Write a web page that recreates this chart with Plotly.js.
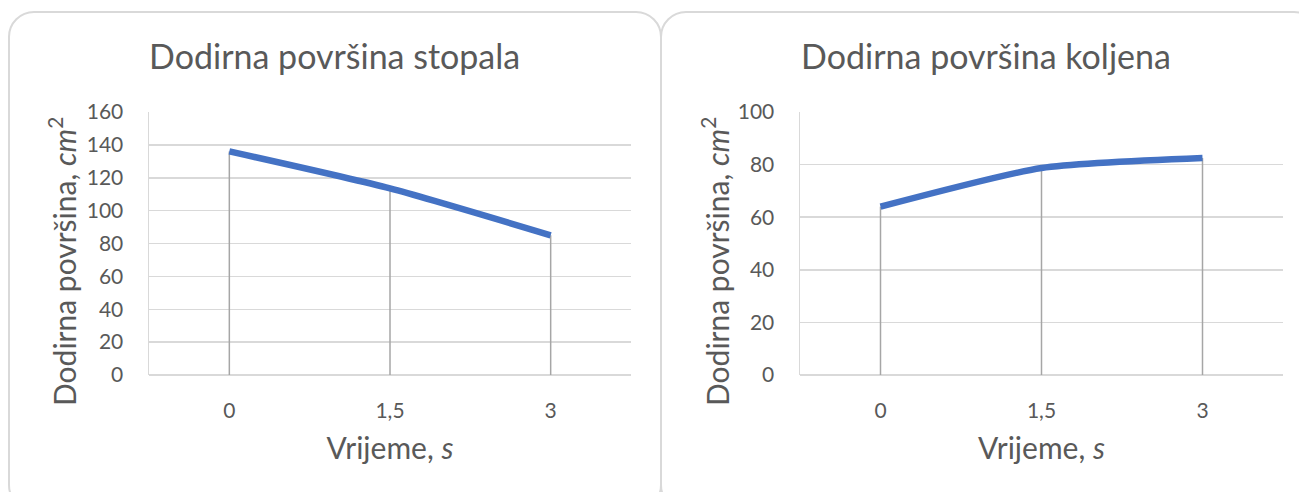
<!DOCTYPE html>
<html>
<head>
<meta charset="utf-8">
<script src="https://cdn.plot.ly/plotly-3.0.1.min.js"></script>
<style>
  html, body { margin: 0; padding: 0; background: #ffffff; overflow: hidden; }
  #wrap { position: relative; width: 1299px; height: 492px; overflow: hidden; }
  .card { position: absolute; border: 2px solid #d9d9d9; border-radius: 26px; box-sizing: border-box; background: #fff; }
  #card1 { left: 8px; top: 11px; width: 654px; height: 500px; }
  #card2 { left: 660px; top: 11px; width: 660px; height: 500px; }
  .plot { position: absolute; top: 0; }
  #p1 { left: 0; width: 660px; height: 492px; }
  #p2 { left: 660px; width: 639px; height: 492px; }
</style>
</head>
<body>
<div id="wrap">
  <div class="card" id="card1"></div>
  <div class="card" id="card2"></div>
  <div class="plot" id="p1"></div>
  <div class="plot" id="p2"></div>
</div>
<script>
// Data
const timeLabels = ['0', '1,5', '3'];
const footArea = [136, 113.5, 85];
const kneeArea = [64, 78.7, 82.5];
const footTicks = [0, 20, 40, 60, 80, 100, 120, 140, 160];
const kneeTicks = [0, 20, 40, 60, 80, 100];
const footTitle = 'Dodirna površina stopala';
const kneeTitle = 'Dodirna površina koljena';
const yTitle = 'Dodirna površina, <i>cm</i><sup>2</sup>';
const xTitle = 'Vrijeme, <i>s</i>';

const FONT = 'Lato, "Open Sans", sans-serif';
const TXT = '#595959';
const GRID = '#d9d9d9';

function makeTraces(vals) {
  return [
    {
      x: timeLabels, y: vals, type: 'scatter', mode: 'markers',
      marker: { size: 1, color: 'rgba(0,0,0,0)' },
      error_y: { type: 'data', symmetric: false, array: vals.map(() => 0), arrayminus: vals,
                 color: '#a6a6a6', thickness: 1.5, width: 0 },
      hoverinfo: 'skip', showlegend: false
    },
    {
      x: timeLabels, y: vals, type: 'scatter', mode: 'lines',
      line: { color: '#4472C4', width: 6.5, shape: 'spline', smoothing: 0.6 },
      showlegend: false
    }
  ];
}

function makeLayout(title, ticks, ymax, m, titleX, yTitleX) {
  const plotW = m.w - m.l - m.r;
  return {
    width: m.w, height: 492,
    paper_bgcolor: 'rgba(0,0,0,0)', plot_bgcolor: 'rgba(0,0,0,0)',
    margin: { l: m.l, r: m.r, t: 112, b: 117, pad: 0 },
    font: { family: FONT, color: TXT },
    title: { text: title, font: { family: FONT, size: 34, color: TXT },
             xref: 'container', x: titleX, xanchor: 'center',
             yref: 'container', y: 1 - 57 / 492, yanchor: 'middle' },
    xaxis: {
      type: 'category', range: [-0.5, 2.5],
      showgrid: false, zeroline: false, showline: false, ticks: '',
      tickfont: { family: FONT, size: 21, color: TXT },
      ticklabelstandoff: 21,
      title: { text: xTitle, font: { family: FONT, size: 30, color: TXT }, standoff: 16 }
    },
    yaxis: {
      range: [0, ymax], tickvals: ticks, ticktext: ticks.map(String),
      showgrid: true, gridcolor: GRID, gridwidth: 1.5,
      zeroline: true, zerolinecolor: GRID, zerolinewidth: 1.5,
      showline: true, linecolor: GRID, linewidth: 1.5,
      ticks: '', tickfont: { family: FONT, size: 21, color: TXT },
      ticklabelstandoff: 20
    },
    annotations: [{
      text: yTitle, textangle: -90, showarrow: false,
      xref: 'paper', x: (yTitleX - m.l) / plotW, xanchor: 'center',
      yref: 'paper', y: (375 - 262) / 263, yanchor: 'middle',
      font: { family: FONT, size: 30, color: TXT }
    }]
  };
}

Plotly.newPlot('p1', makeTraces(footArea),
  makeLayout(footTitle, footTicks, 160, { w: 660, l: 149, r: 29 }, 0.507, 62),
  { displayModeBar: false, staticPlot: true });
Plotly.newPlot('p2', makeTraces(kneeArea),
  makeLayout(kneeTitle, kneeTicks, 100, { w: 639, l: 140, r: 16 }, (986 - 660) / 639, 715 - 660),
  { displayModeBar: false, staticPlot: true });
</script>
</body>
</html>
